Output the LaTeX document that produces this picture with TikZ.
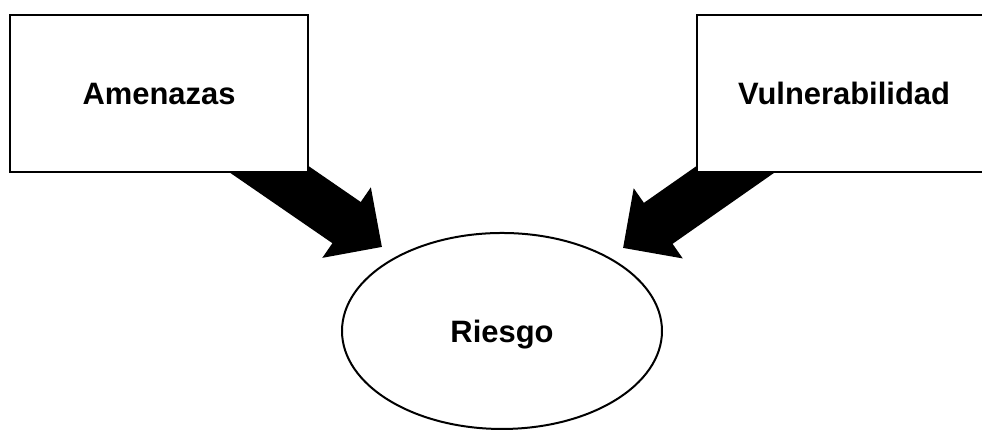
\documentclass[tikz,border=0pt]{standalone}
\usepackage{fontspec}
\setmainfont{Liberation Sans}
\usetikzlibrary{arrows.meta,shapes.geometric,backgrounds}

\begin{document}
\begin{tikzpicture}[x=0.1mm,y=-0.1mm,
        caja/.style={draw, line width=0.2mm, fill=white, minimum width=29.8mm, minimum height=15.7mm,
            font=\fontsize{8.8}{10}\selectfont\bfseries, text height=6.3pt, text depth=0pt},
        ovalo/.style={ellipse, draw, line width=0.2mm, fill=white, minimum width=32mm, minimum height=19.6mm,
            inner sep=0pt, font=\fontsize{8.8}{10}\selectfont\bfseries, text height=6.3pt, text depth=0pt},
        flecha/.style={line width=5mm, -{Triangle[width=8.3mm,length=4.3mm]}}]
        \useasboundingbox (0,0) rectangle (982,431);
        \node[caja] (amenazas) at (159,93.5) {Amenazas};
        \node[caja, minimum width=29.4mm] (vulnerab) at (844,93.5) {Vulnerabilidad};
        \node[ovalo] (riesgo) at (502,331) {Riesgo};
        \coordinate (puntaA) at (382,247);
        \coordinate (puntaV) at (623,248);
        % Flechas gruesas que salen por debajo de las cajas
        \begin{scope}[on background layer]
            \draw[flecha] (amenazas.center) -- (puntaA);
            \draw[flecha] (vulnerab.center) -- (puntaV);
        \end{scope}
    \end{tikzpicture}
\end{document}
